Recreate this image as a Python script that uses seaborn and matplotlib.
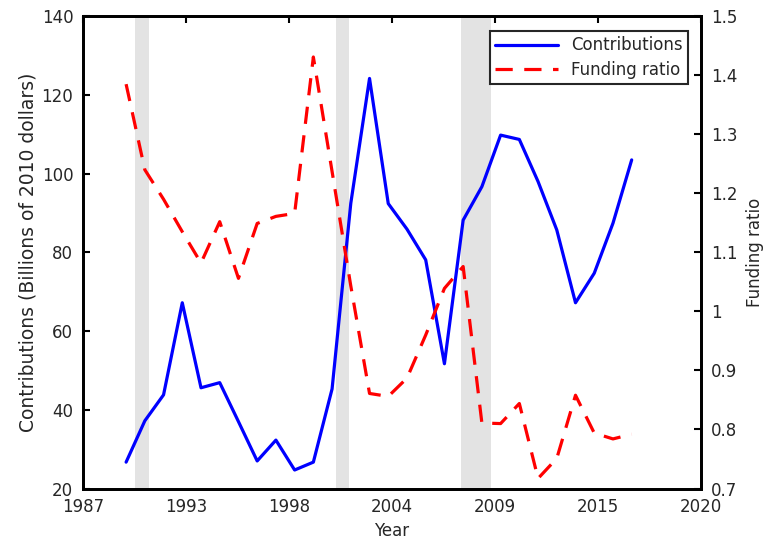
import numpy as np
import pandas as pd
import matplotlib
matplotlib.use("Agg")
import matplotlib.pyplot as plt
import seaborn as sns

# values
years = list(range(1990, 2018))
contributions = [26.7, 37.2, 43.8, 67.2, 45.6, 46.9, 37.0, 27.0, 32.3, 24.7,
                 26.7, 45.3, 92.5, 124.2, 92.4, 85.9, 78.1, 51.7, 88.2, 96.7,
                 109.8, 108.7, 98.0, 85.7, 67.2, 74.7, 87.4, 103.5]
funding_ratio = [1.385, 1.240, 1.190, 1.135, 1.082, 1.152, 1.056, 1.149, 1.161, 1.166,
                 1.431, 1.237, 1.043, 0.861, 0.856, 0.887, 0.960, 1.039, 1.076, 0.811,
                 0.810, 0.844, 0.717, 0.751, 0.858, 0.794, 0.784, 0.792]

# recession periods (start, end)
recessions = [(1990.5, 1991.2), (2001.2, 2001.9), (2007.9, 2009.5)]

xlim = (1987.7, 2020.7)
xtick_labels = ["1987", "1993", "1998", "2004", "2009", "2015", "2020"]
left_ticks = [20, 40, 60, 80, 100, 120, 140]
right_ticks = [0.7, 0.8, 0.9, 1.0, 1.1, 1.2, 1.3, 1.4, 1.5]
right_labels = ["0.7", "0.8", "0.9", "1", "1.1", "1.2", "1.3", "1.4", "1.5"]

df = pd.DataFrame({"year": years, "contributions": contributions,
                   "funding_ratio": funding_ratio})

sns.set_style("white")
plt.rcParams["font.family"] = ["DejaVu Sans"]
text_color = "#262626"
fs = 12

fig = plt.figure(figsize=(7.66, 5.42), dpi=100)
ax = fig.add_axes([0.1084, 0.0987, 0.9151 - 0.1084, 0.970 - 0.0987])
ax2 = ax.twinx()

# shaded recessions
for start, end in recessions:
    ax.axvspan(start, end, color="#e3e3e3", lw=0, zorder=0)

sns.lineplot(data=df, x="year", y="contributions", ax=ax, color="#0000ff",
             lw=2.3, label="Contributions", legend=False)
sns.lineplot(data=df, x="year", y="funding_ratio", ax=ax2, color="#ff0000",
             lw=2.3, label="Funding ratio", legend=False)
ax2.lines[0].set_linestyle((0, (5.4, 3.6)))
ax2.lines[0].set_dash_capstyle("butt")

ax.set_xlim(*xlim)
ax.set_ylim(20, 140)
ax2.set_ylim(0.7, 1.5)
ax.set_xticks(np.linspace(xlim[0], xlim[1], 7))
ax.set_xticklabels(xtick_labels)
ax.set_yticks(left_ticks)
ax2.set_yticks(right_ticks)
ax2.set_yticklabels(right_labels)

ax.set_xlabel("Year", color=text_color, fontsize=fs, labelpad=4)
ax.set_ylabel("Contributions (Billions of 2010 dollars)", color=text_color,
              fontsize=13.5, labelpad=3)
ax2.set_ylabel("Funding ratio", color=text_color, fontsize=fs, labelpad=6)

ax.tick_params(axis="x", direction="in", length=5, width=1.5, top=True,
               colors="black", labelcolor=text_color, labelsize=fs, pad=7)
ax.tick_params(axis="y", direction="in", length=5, width=1.5, right=False,
               colors="black", labelcolor=text_color, labelsize=fs, pad=7)
ax2.tick_params(axis="y", direction="in", length=5, width=1.5,
                colors="black", labelcolor=text_color, labelsize=fs, pad=7)

for a in (ax, ax2):
    for s in a.spines.values():
        s.set_visible(True)
        s.set_color("black")
        s.set_linewidth(2)

handles = ax.get_lines()[:1] + ax2.get_lines()[:1]
leg = ax2.legend(handles, ["Contributions", "Funding ratio"], loc="upper right",
                 bbox_to_anchor=(0.979, 0.968), borderaxespad=0, fancybox=False,
                 framealpha=1, edgecolor="#262626", fontsize=fs, handlelength=3.8,
                 borderpad=0.3, labelspacing=0.4, handletextpad=0.8)
leg.get_frame().set_linewidth(1.5)
for t in leg.get_texts():
    t.set_color(text_color)

fig.savefig("out.png", dpi=100)
